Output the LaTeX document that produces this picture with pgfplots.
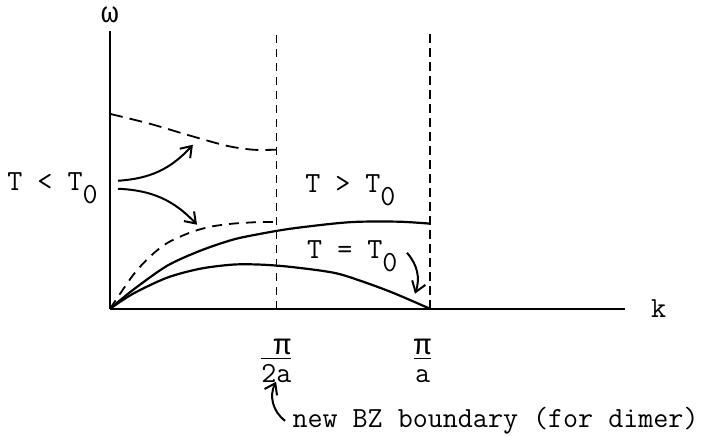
\documentclass[border=0pt]{standalone}
\usepackage{fontspec}
\usepackage{pgfplots}
\pgfplotsset{compat=1.18}
\usetikzlibrary{arrows.meta}
\newfontfamily\gr{Liberation Mono}
\renewcommand{\familydefault}{\ttdefault}
% lowered typewriter subscript
\newcommand{\sub}[1]{\raisebox{-6.5pt}{#1}}
% typed fraction: numerator, rule, denominator
\newcommand{\tfr}[2]{\begin{tabular}{@{}c@{}}#1\\[-3.5pt]\hline #2\end{tabular}}

\begin{document}
\begin{tikzpicture}[font=\fontsize{14.6}{17}\selectfont,
    >={Straight Barb[length=5pt,width=7pt]}]
\begin{axis}[
    x=160pt, y=160pt,
    xmin=0, xmax=1.61,
    ymin=0, ymax=0.869,
    axis lines=left,
    x axis line style={-}, y axis line style={-},
    axis line style={line width=1.1pt},
    xtick={0.52,0.977}, ytick=\empty,
    xticklabels={\tfr{\hspace*{6pt}{\gr π}}{2a}, \tfr{{\gr π}}{a}},
    major tick length=0pt,
    xticklabel style={anchor=north, inner sep=0pt, yshift=-11pt},
    clip=false,
    ]
    % zone boundaries
    \addplot[line width=0.8pt, dash pattern=on 4pt off 3pt]
        coordinates {(0.52,0)(0.52,0.869)};
    \addplot[line width=1.2pt, dash pattern=on 4.5pt off 2.5pt]
        coordinates {(1,0)(1,0.869)};
    % T < T0 branches (dimer)
    \addplot[line width=0.9pt, dash pattern=on 6.5pt off 3.5pt, smooth]
        coordinates {(0,0.609)(0.125,0.578)(0.25,0.541)(0.366,0.509)(0.447,0.497)(0.52,0.497)};
    \addplot[line width=0.9pt, dash pattern=on 5pt off 3.5pt, smooth]
        coordinates {(0,0)(0.072,0.105)(0.125,0.163)(0.178,0.205)(0.25,0.238)(0.3125,0.256)(0.384,0.266)(0.469,0.271)(0.52,0.271)};
    % T > T0
    \addplot[line width=1.1pt, smooth]
        coordinates {(0,0)(0.072,0.059)(0.178,0.134)(0.281,0.181)(0.384,0.216)(0.469,0.234)(0.563,0.25)(0.697,0.266)(0.781,0.272)(0.906,0.272)(1.0,0.266)};
    % T = T0
    \addplot[line width=1.1pt, smooth]
        coordinates {(0,0)(0.072,0.047)(0.178,0.097)(0.281,0.125)(0.384,0.138)(0.469,0.138)(0.563,0.131)(0.697,0.113)(0.781,0.088)(0.884,0.05)(1.0,0)};

    % labels
    \node at (axis cs:0,0.919) {\gr ω};
    \node[anchor=west, inner sep=0pt] at (axis cs:1.69,0) {k};
    \node[anchor=base west, inner sep=0pt] at (axis cs:-0.322,0.369) {T < T\sub{0}};
    \node[anchor=base west, inner sep=0pt] at (axis cs:0.609,0.3625) {T > T\sub{0}};
    \node[anchor=base west, inner sep=0pt] at (axis cs:0.615,0.156) {T = T\sub{0}};
    \node[anchor=base west, inner sep=0pt] at (axis cs:0.569,-0.372) {new BZ boundary (for dimer)};

    % arrows
    \draw[line width=1pt, ->] (axis cs:0.025,0.40) to[bend right=22] (axis cs:0.259,0.5125);
    \draw[line width=1pt, ->] (axis cs:0.025,0.375) to[bend left=22] (axis cs:0.272,0.2625);
    \draw[line width=1pt, ->] (axis cs:0.928,0.175) to[bend left=30] (axis cs:0.953,0.047);
    \draw[line width=1pt, ->] (axis cs:0.547,-0.35) to[bend left=40] (axis cs:0.519,-0.228);

    % page frame matching the reference
    \path (axis cs:-0.34375,0.9625) rectangle (axis cs:1.878,-0.4);
\end{axis}
\end{tikzpicture}
\end{document}
